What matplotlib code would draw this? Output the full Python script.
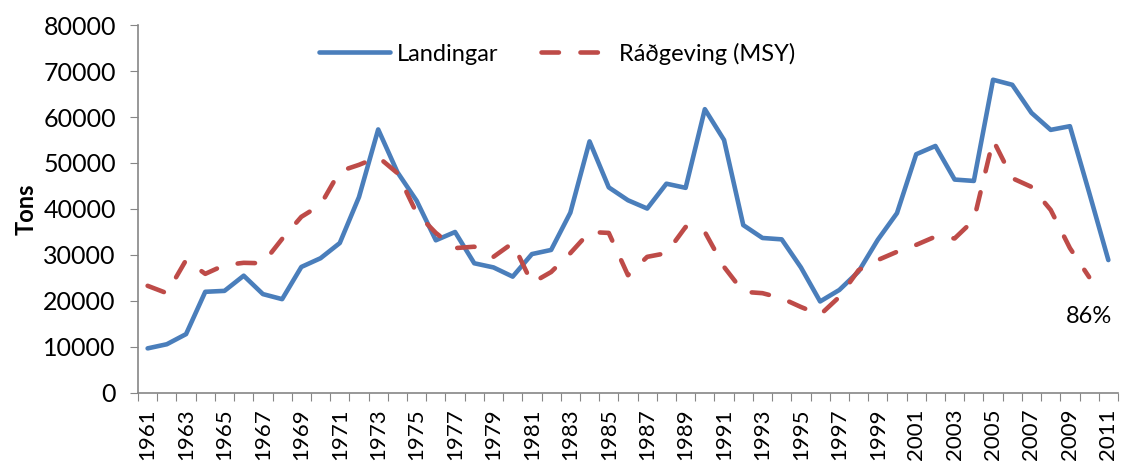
import numpy as np
import matplotlib.pyplot as plt

plt.rcParams['font.family'] = ['Lato', 'DejaVu Sans']

years = np.arange(1961, 2012)

landingar = [9700, 10600, 12800, 22000, 22200, 25500, 21500, 20400, 27400, 29300,
             32600, 42600, 57300, 48000, 41800, 33200, 35000, 28200, 27300, 25300,
             30200, 31100, 39200, 54700, 44700, 41900, 40100, 45500, 44600, 61700,
             55000, 36500, 33700, 33400, 27300, 19900, 22400, 26400, 33300, 39100,
             51900, 53700, 46400, 46100, 68100, 67000, 60900, 57200, 58000, 43600,
             28900]

msy = [23300, 21700, 28900, 25900, 27800, 28300, 28200, 33500, 38300, 40900,
       48200, 49600, 51300, 47800, 39100, 34800, 31500, 31800, 29600, 32600,
       23900, 26300, 30400, 35000, 34800, 25600, 29600, 30400, 36100, 35000,
       27400, 22000, 21700, 20600, 18700, 17000, 20900, 26700, 28900, 30700,
       32200, 34000, 33600, 37600, 55000, 46700, 44800, 39800, 31500, 25200,
       np.nan]

blue = '#4A7EBB'
red = '#BE4B48'
gray = '#868686'

fig = plt.figure(figsize=(11.23, 4.63), dpi=100)
ax = fig.add_axes([0.1229, 0.1512, 0.8726, 0.7948])

ax.plot(years, landingar, color=blue, lw=3.3, label='Landingar',
        solid_joinstyle='round', solid_capstyle='round')
ax.plot(years, msy, color=red, lw=3.3, ls=(0, (3.8, 4.7)), dash_capstyle='round',
        label='Ráðgeving (MSY)')

ax.set_xlim(1960.5, 2011.5)
ax.set_ylim(0, 80000)
ax.set_yticks(np.arange(0, 80001, 10000))
ax.tick_params(axis='y', labelsize=18, length=6, pad=10, color=gray)

# category boundaries as ticks, odd years as labels
ax.set_xticks(np.arange(1960.5, 2012, 1))
ax.set_xticklabels([])
ax.set_xticks(years[::2], minor=True)
ax.set_xticklabels([str(y) for y in years[::2]], minor=True, rotation=90, fontsize=16)
ax.tick_params(axis='x', which='major', length=6, color=gray)
ax.tick_params(axis='x', which='minor', length=0, pad=11)

for s in ['top', 'right']:
    ax.spines[s].set_visible(False)
for s in ['left', 'bottom']:
    ax.spines[s].set_color(gray)
    ax.spines[s].set_linewidth(1.2)

ax.set_ylabel('Tons', fontsize=17, fontweight='bold', labelpad=4)

ax.text(2010, 16700, '86%', fontsize=17, ha='center', va='center')

ax.legend(loc='upper center', bbox_to_anchor=(0.428, 1.01), ncol=2, frameon=False,
          fontsize=17, handlelength=3.0, columnspacing=1.8, handletextpad=0.3)

fig.savefig('out.png', dpi=100)
